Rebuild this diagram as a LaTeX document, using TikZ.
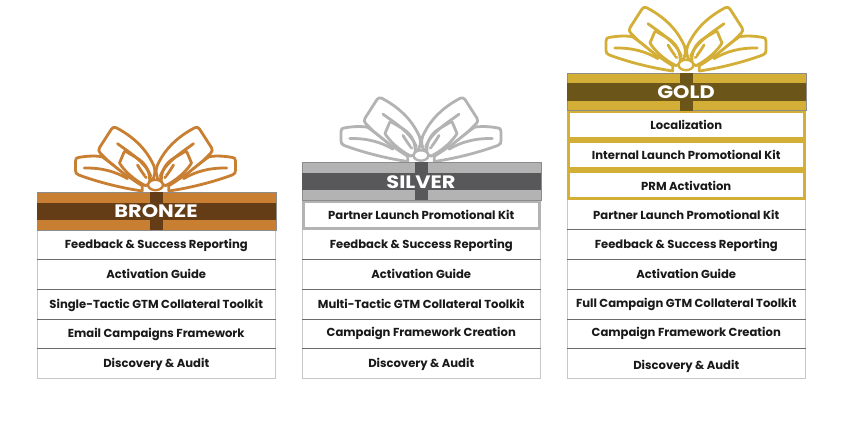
\documentclass[tikz,border=0pt]{standalone}
\usepackage{fontspec}
\setmainfont{Poppins}[BoldFont={Poppins Bold}]
\newfontfamily\headfont{Poppins}[UprightFont={* Bold},FakeStretch=1.16]
\newcommand{\nudge}[2]{\raisebox{#1}{#2}}
\newcommand{\seps}[1]{\foreach \n in {#1}{\draw[sepline] (\n.south west) -- (\n.south east);}}
\tikzset{
  rowbox/.style={draw=black!22,line width=.8pt,fill=white,minimum width=238.5pt,minimum height=29.8pt,inner sep=0pt,outer sep=0pt,anchor=north west,
    text height=8pt,text depth=0pt,font=\bfseries\fontsize{11.6}{13}\selectfont,text=black!90},
  sepline/.style={draw=black!58,line width=.8pt},
  hirow/.style={rowbox,line width=3pt,minimum width=235.5pt,minimum height=27pt},
  headband/.style={draw=black!45,line width=.5pt,minimum width=238.5pt,minimum height=37.5pt,inner sep=0pt,anchor=north west},
  headtext/.style={text=white,font=\headfont\fontsize{18}{20}\selectfont,inner sep=0pt,text height=12.6pt,text depth=0pt},
  pics/bowhalf/.style={code={
    \begin{scope}[scale=1/3,line width=2.8pt,draw=#1,fill=white,line join=round,line cap=round]
      % side loop
      \filldraw (40,18) .. controls (95,10) and (165,-6) .. (230,-30) .. controls (238,-33) and (240,-37) .. (240,-44)
        -- (240,-72) .. controls (240,-80) and (236,-83) .. (229,-83) .. controls (200,-88) and (175,-88) .. (155,-84) -- (100,-60) -- (40,-10) -- cycle;
      \draw (159,-84) .. controls (125,-60) and (85,-25) .. (40,2);
      \draw (84,-19) .. controls (120,-40) and (160,-52) .. (214,-51);
      % big loop
      \filldraw (6,-20) .. controls (-1,-40) and (2,-55) .. (10,-68) .. controls (36,-120) and (80,-152) .. (118,-172) .. controls (124,-174) and (129,-173) .. (132,-168)
        -- (168,-112) .. controls (171,-106) and (171,-100) .. (166,-96) -- (144,-74) -- (90,-30) -- (36,-6) -- cycle;
      % inner petal
      \filldraw (18,-4) .. controls (14,-40) and (30,-65) .. (54,-80) -- (88,-100) .. controls (92,-102) and (94,-101) .. (95,-97) -- (108,-66)
        .. controls (96,-45) and (65,-15) .. (30,2) -- cycle;
      \draw (114,-124) .. controls (85,-102) and (30,-70) .. (14,-26);
      \draw (54,-60) .. controls (45,-45) and (38,-35) .. (28,-22);
      \fill (32,-41) circle (3);
      \fill (28,-29) circle (2.2);
    \end{scope}}},
  pics/bow/.style={code={
    \pic[xscale=-1] {bowhalf=#1};
    \pic {bowhalf=#1};
    \path[draw=#1,fill=white,line width=2.4pt] (0,0) ellipse (7.4 and 5.2);
  }}
}
\newcommand{\header}[5]{%
  \node[headband,fill=#4] (#1) at (#2,#3) {};
  \fill[#5] ([yshift=-10.5pt]#1.north west) rectangle ([yshift=10pt]#1.south east);
  \fill[#5] ([xshift=-6.2pt]#1.north) rectangle ([xshift=6.2pt]#1.south);
}
\begin{document}
\begin{tikzpicture}[x=1pt,y=-1pt]
\useasboundingbox (0,0) rectangle (842,421);
\definecolor{bronzeL}{HTML}{C97F32}\definecolor{bronzeD}{HTML}{643C16}
\definecolor{silverL}{HTML}{B3B3B3}\definecolor{silverD}{HTML}{58585A}
\definecolor{goldL}{HTML}{D4AF37}\definecolor{goldD}{HTML}{6B5519}
% bows
\pic at (155.5,185) {bow=bronzeL};
\pic at (421,155.5) {bow=silverL};
\pic at (686,65) {bow=goldL};
% bronze
\node[rowbox] (b1) at (37,229.6) {Feedback \& Success Reporting};
\node[rowbox] (b2) at (37,259.4) {Activation Guide};
\node[rowbox] (b3) at (37,289.2) {Single-Tactic GTM Collateral Toolkit};
\node[rowbox] (b4) at (37,319) {Email Campaigns Framework};
\node[rowbox] (b5) at (37,348.8) {Discovery \& Audit};
\seps{b1,b2,b3,b4}
\header{bh}{37}{192.2}{bronzeL}{bronzeD}
\node[headtext] (bt) at (156,211.5) {BRONZE};
% silver
\node[rowbox] (s2) at (302,229.6) {\nudge{.5pt}{Feedback \& Success Reporting}};
\node[rowbox] (s3) at (302,259.4) {Activation Guide};
\node[rowbox] (s4) at (302,289.2) {Multi-Tactic GTM Collateral Toolkit};
\node[rowbox] (s5) at (302,319) {\nudge{1pt}{Campaign Framework Creation}};
\node[rowbox] (s6) at (302,348.8) {Discovery \& Audit};
\seps{s2,s3,s4,s5}
\node[hirow,draw=silverL] (s1) at (303.5,201.5) {\nudge{-.3pt}{Partner Launch Promotional Kit}};
\header{sh}{302}{162.2}{silverL}{silverD}
\node[headtext] (st) at (421,182) {SILVER};
% gold
\node[rowbox] (g4) at (567,199.8) {\nudge{-.7pt}{Partner Launch Promotional Kit}};
\node[rowbox] (g5) at (567,229.6) {Feedback \& Success Reporting};
\node[rowbox] (g6) at (567,259.4) {Activation Guide};
\node[rowbox] (g7) at (567,289.2) {\nudge{1pt}{Full Campaign GTM Collateral Toolkit}};
\node[rowbox] (g8) at (567,319) {\nudge{1pt}{Campaign Framework Creation}};
\node[rowbox] (g9) at (567,348.8) {\nudge{-2pt}{Discovery \& Audit}};
\seps{g4,g5,g6,g7,g8}
\node[hirow,draw=goldL] (g1) at (568.5,111.5) {Localization};
\node[hirow,draw=goldL] (g2) at (568.5,141.5) {Internal Launch Promotional Kit};
\node[hirow,draw=goldL] (g3) at (568.5,171.5) {\nudge{-1.5pt}{PRM Activation}};
\header{gh}{567}{72.5}{goldL}{goldD}
\node[headtext] (gt) at (686,92) {GOLD};
\end{tikzpicture}
\end{document}
